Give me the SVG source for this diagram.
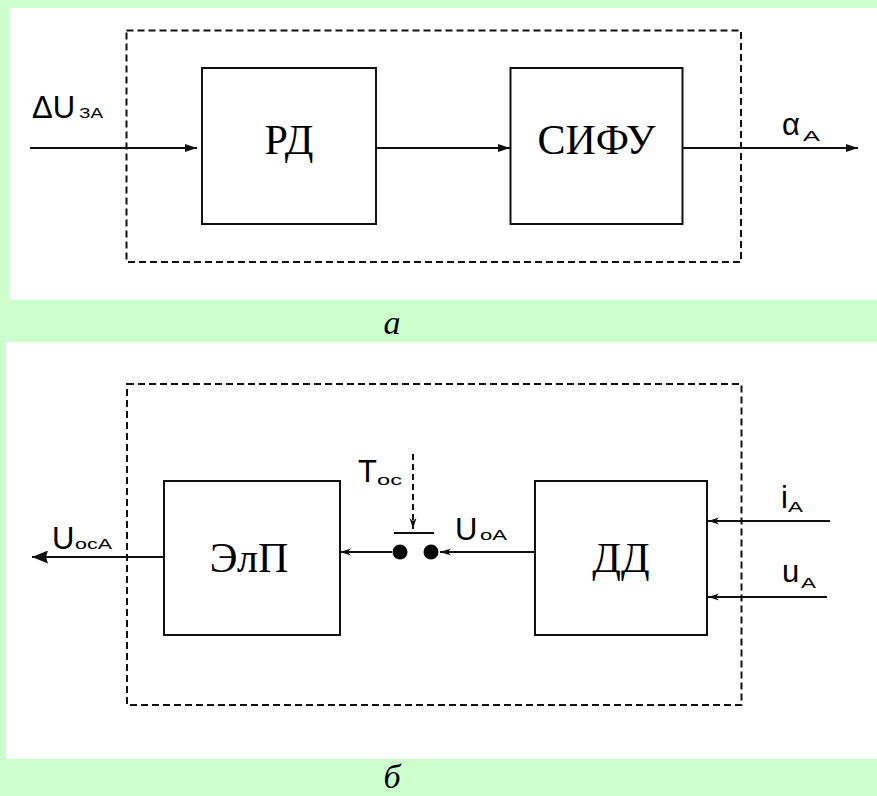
<svg xmlns="http://www.w3.org/2000/svg" width="877" height="796" viewBox="0 0 877 796">
<style>
.box{fill:#fff;stroke:#111;stroke-width:2}
.dash{fill:none;stroke:#111;stroke-width:2;stroke-dasharray:7 4}
.ln{fill:none;stroke:#111;stroke-width:2}
.blk{font-family:"Liberation Serif","Times New Roman",serif;font-size:42px;fill:#000;text-anchor:middle}
.lbl{font-family:"Liberation Sans",Arial,sans-serif;font-size:31px;fill:#000}
.sub{font-family:"Liberation Sans",Arial,sans-serif;font-size:15px;fill:#000}
.cap{font-family:"Liberation Serif","Times New Roman",serif;font-style:italic;font-size:34px;fill:#000;text-anchor:middle}
</style>
<defs>
<marker id="aTop" markerUnits="userSpaceOnUse" markerWidth="12" markerHeight="8" refX="12" refY="4" orient="auto">
<path d="M0,0 L12,4 L0,8 Z" fill="#111"/>
</marker>
<marker id="aSm" markerUnits="userSpaceOnUse" markerWidth="11" markerHeight="8" refX="11" refY="4" orient="auto">
<path d="M0,0.5 L11,4 L0,7.5 L3,4 Z" fill="#111"/>
</marker>
<marker id="aBig" markerUnits="userSpaceOnUse" markerWidth="16" markerHeight="13" refX="16" refY="6.5" orient="auto">
<path d="M0,0 L16,6.5 L0,13 L2,6.5 Z" fill="#111"/>
</marker>
</defs>
<rect x="0" y="0" width="877" height="796" fill="#ccffcc"/>
<rect x="9" y="8" width="868" height="292" fill="#fff"/>
<rect x="6" y="342" width="871" height="417" fill="#fff"/>

<g id="frame-a"><rect class="dash" x="126.5" y="30.5" width="614.5" height="231.5"/></g>
<g id="frame-b"><rect class="dash" x="127" y="384" width="614.5" height="321"/></g>

<g id="connectors">
<path class="ln" d="M30,148 H197" marker-end="url(#aTop)"/>
<path class="ln" d="M376,148 H510" marker-end="url(#aTop)"/>
<path class="ln" d="M682,148 H858" marker-end="url(#aTop)"/>
<path class="ln" d="M164,557 H32" marker-end="url(#aBig)"/>
<path class="ln" d="M392,552 H340" marker-end="url(#aSm)"/>
<path class="ln" d="M535,552 H440" marker-end="url(#aSm)"/>
<path class="ln" d="M830,521 H708" marker-end="url(#aSm)"/>
<path class="ln" d="M827,597 H708" marker-end="url(#aSm)"/>
<path class="ln" d="M413,454 V529" stroke-dasharray="6 4" stroke-width="1.6" marker-end="url(#aSm)"/>
<path class="ln" d="M394,533 H434"/>
</g>

<g id="switch">
<circle cx="400" cy="552" r="7.5" fill="#000"/>
<circle cx="431" cy="552" r="7.5" fill="#000"/>
</g>

<g id="rd"><rect class="box" x="202" y="68" width="174" height="156"/><text class="blk" x="289" y="154">РД</text></g>
<g id="sifu"><rect class="box" x="510.5" y="68" width="172" height="156"/><text class="blk" x="596.5" y="154">СИФУ</text></g>
<g id="elp"><rect class="box" x="164" y="481" width="176" height="154"/><text class="blk" x="249" y="572">ЭлП</text></g>
<g id="dd"><rect class="box" x="535" y="481" width="172" height="154"/><text class="blk" x="621" y="572">ДД</text></g>

<g id="labels">
<text class="lbl" x="32" y="118">ΔU</text><text class="sub" x="79" y="118" textLength="24" lengthAdjust="spacingAndGlyphs">ЗА</text>
<text class="lbl" x="782" y="135">α</text><text class="sub" x="803" y="141" textLength="17" lengthAdjust="spacingAndGlyphs">А</text>
<text class="lbl" x="52" y="549">U</text><text class="sub" x="75" y="549" textLength="37" lengthAdjust="spacingAndGlyphs">ocA</text>
<text class="lbl" x="358" y="482">T</text><text class="sub" x="377" y="485" textLength="25" lengthAdjust="spacingAndGlyphs">oc</text>
<text class="lbl" x="455" y="540">U</text><text class="sub" x="480" y="540" textLength="27" lengthAdjust="spacingAndGlyphs">oA</text>
<text class="lbl" x="781" y="508">i</text><text class="sub" x="788" y="512" textLength="15" lengthAdjust="spacingAndGlyphs">A</text>
<text class="lbl" x="782" y="582">u</text><text class="sub" x="801" y="588" textLength="15" lengthAdjust="spacingAndGlyphs">A</text>
</g>

<g id="captions">
<text class="cap" x="392" y="334">а</text>
<text class="cap" x="392" y="788">б</text>
</g>
</svg>
